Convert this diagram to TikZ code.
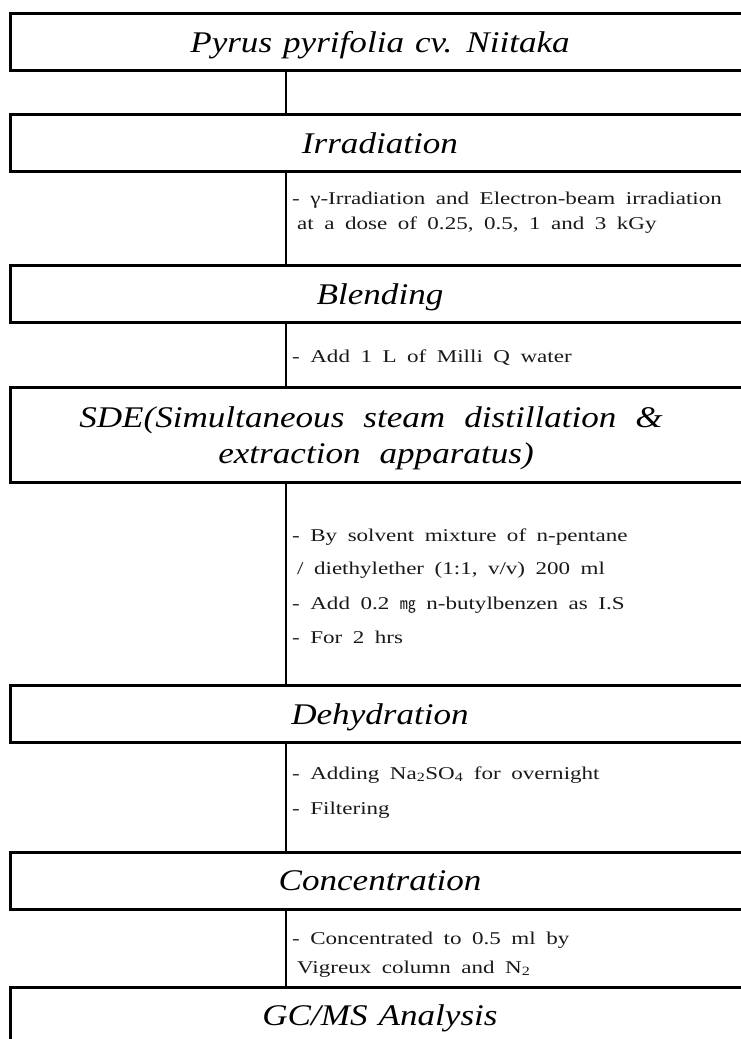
\documentclass[tikz,border=0pt]{standalone}
\usepackage{fontspec}
\setmainfont{Liberation Serif}
\newfontfamily\labfont[FakeStretch=1.17]{Liberation Serif}
\newfontfamily\notefont[FakeStretch=1.28]{Liberation Serif}
\newfontfamily\cjkfont{Noto Sans CJK KR}
\newcommand\stagefont{\labfont\itshape\fontsize{30}{34}\selectfont\spaceskip 11pt\relax}
\newcommand\sdefontsel{\labfont\itshape\fontsize{30}{34}\selectfont\spaceskip 19pt\relax}
\newcommand\notefontsel{\notefont\fontsize{18}{22}\selectfont\spaceskip 10.5pt\relax}
\begin{document}
\begin{tikzpicture}[x=1pt,y=-1pt,
  stage/.style={draw=black, line width=3pt, minimum width=740pt, minimum height=57pt, inner sep=0pt,
    text height=22pt, text depth=2pt, font=\stagefont},
  sdelab/.style={inner sep=0pt, text height=22pt, text depth=2pt, font=\sdefontsel},
  note/.style={anchor=base west, inner sep=0pt, text=black!90, font=\notefontsel},
  conn/.style={draw=black, line width=2.6pt}]
\useasboundingbox (0,0) rectangle (740,1039);
\coordinate (cx) at (286,0);
% stages
\node[stage] (b1) at (380,42) {Pyrus pyrifolia cv. Niitaka};
\node[stage] (b2) at (380,143) {Irradiation};
\node[stage] (b3) at (380,294) {Blending};
\node[stage, minimum height=95pt] (b4) at (380,434.5) {};
\node[sdelab] (b4a) at (371,417) {SDE(Simultaneous steam distillation \&};
\node[sdelab] (b4b) at (376,453) {extraction apparatus)};
\node[stage] (b5) at (380,714) {Dehydration};
\node[stage] (b6) at (380,880.5) {Concentration};
\node[stage] (b7) at (380,1015.5) {GC/MS Analysis};
% connectors
\foreach \a/\b in {b1/b2,b2/b3,b3/b4,b4/b5,b5/b6,b6/b7}
  \draw[conn] (\a.south -| cx) -- (\b.north -| cx);
% notes
\node[note] (n1a) at (292,204) {- γ-Irradiation and Electron-beam irradiation};
\node[note] (n1b) at (297,229) {at a dose of 0.25, 0.5, 1 and 3 kGy};
\node[note] (n2) at (292,362) {- Add 1 L of Milli Q water};
\node[note] (n3a) at (292,541) {- By solvent mixture of n-pentane};
\node[note] (n3b) at (297,574) {/ diethylether (1:1, v/v) 200 ml};
\node[note] (n3c) at (292,609) {- Add 0.2 {\cjkfont\fontsize{16}{20}\selectfont ㎎} n-butylbenzen as I.S};
\node[note] (n3d) at (292,643) {- For 2 hrs};
\node[note] (n4a) at (292,779) {- Adding Na\textsubscript{2}SO\textsubscript{4} for overnight};
\node[note] (n4b) at (292,814) {- Filtering};
\node[note] (n5a) at (292,944) {- Concentrated to 0.5 ml by};
\node[note] (n5b) at (297,973) {Vigreux column and N\textsubscript{2}};
\end{tikzpicture}
\end{document}
